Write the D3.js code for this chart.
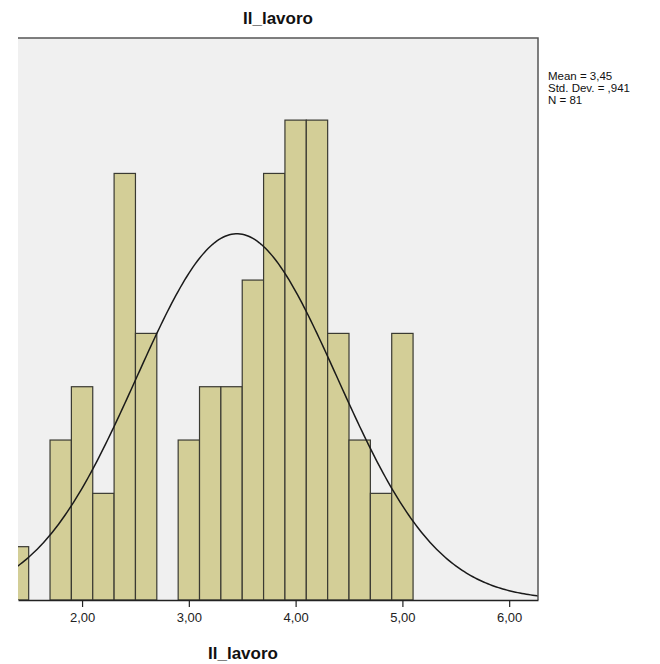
<!DOCTYPE html>
<html>
<head>
<meta charset="utf-8">
<title>Il_lavoro</title>
<script src="https://cdn.jsdelivr.net/npm/d3@7/dist/d3.min.js"></script>
<style>
  body { margin: 0; background: #fff; }
  svg { font-family: "Liberation Sans", Arial, sans-serif; }
</style>
</head>
<body>
<div id="chart"></div>
<script>
// bin lower edges (width 0.2) and counts
var binStarts = [1.3, 1.5, 1.7, 1.9, 2.1, 2.3, 2.5, 2.7, 2.9, 3.1, 3.3, 3.5, 3.7, 3.9, 4.1, 4.3, 4.5, 4.7, 4.9];
var counts    = [1,   0,   3,   4,   2,   8,   5,   0,   3,   4,   4,   6,   8,   9,   9,   5,   3,   2,   5];
var binWidth = 0.2;
var xTicks = [2, 3, 4, 5, 6];
var stats = ["Mean = 3,45", "Std. Dev. = ,941", "N = 81"];
var mean = 3.45, sd = 0.941, n = 81;

var width = 660, height = 664;
var m = { left: 18, right: 538, top: 38, bottom: 600 };

var svg = d3.select("#chart").append("svg")
  .attr("width", width)
  .attr("height", height);

var x = d3.scaleLinear().domain([1.4, 6.27]).range([m.left, m.right]);
var y = d3.scaleLinear().domain([0, 10.54]).range([m.bottom, m.top]);

svg.append("defs").append("clipPath").attr("id", "plot")
  .append("rect").attr("x", m.left).attr("y", m.top)
  .attr("width", m.right - m.left).attr("height", m.bottom - m.top);

// plot background
svg.append("rect")
  .attr("x", m.left).attr("y", m.top)
  .attr("width", m.right - m.left).attr("height", m.bottom - m.top)
  .attr("fill", "#f0f0f0");

var plot = svg.append("g").attr("clip-path", "url(#plot)");

// bars
plot.selectAll("rect.bar")
  .data(binStarts.map(function (b, i) { return { x0: b, count: counts[i] }; })
    .filter(function (d) { return d.count > 0; }))
  .enter().append("rect")
  .attr("class", "bar")
  .attr("x", function (d) { return x(d.x0); })
  .attr("width", function (d) { return x(d.x0 + binWidth) - x(d.x0); })
  .attr("y", function (d) { return y(d.count); })
  .attr("height", function (d) { return y(0) - y(d.count); })
  .attr("fill", "#d3ce97")
  .attr("stroke", "#3a3a32")
  .attr("stroke-width", 1.2);

// normal curve
var curvePts = d3.range(1.0, 6.5, 0.02).map(function (v) {
  var z = (v - mean) / sd;
  return [v, n * binWidth * Math.exp(-0.5 * z * z) / (sd * Math.sqrt(2 * Math.PI))];
});
plot.append("path")
  .datum(curvePts)
  .attr("fill", "none")
  .attr("stroke", "#1a1a1a")
  .attr("stroke-width", 1.5)
  .attr("d", d3.line().x(function (d) { return x(d[0]); }).y(function (d) { return y(d[1]); }));

// top and right borders
svg.append("path")
  .attr("d", "M" + m.left + "," + m.top + "H" + m.right + "V" + m.bottom)
  .attr("fill", "none")
  .attr("stroke", "#555")
  .attr("stroke-width", 1.5);

// x axis
var xAxis = svg.append("g")
  .attr("transform", "translate(0," + m.bottom + ")")
  .call(d3.axisBottom(x).tickValues(xTicks).tickSize(7).tickSizeOuter(0)
    .tickFormat(function (d) { return d3.format(".2f")(d).replace(".", ","); }));
xAxis.select(".domain").attr("stroke", "#222").attr("stroke-width", 1.5);
xAxis.selectAll(".tick line").attr("stroke", "#222").attr("stroke-width", 1.2);
xAxis.selectAll(".tick text")
  .attr("font-size", 13)
  .attr("font-family", "Liberation Sans, Arial, sans-serif")
  .attr("fill", "#222")
  .attr("dy", "0.9em");

// titles
svg.append("text")
  .attr("x", (m.left + m.right) / 2).attr("y", 24)
  .attr("text-anchor", "middle")
  .attr("font-size", 17).attr("font-weight", "bold")
  .attr("fill", "#111")
  .text("Il_lavoro");

svg.append("text")
  .attr("x", 243).attr("y", 659)
  .attr("text-anchor", "middle")
  .attr("font-size", 17).attr("font-weight", "bold")
  .attr("fill", "#111")
  .text("Il_lavoro");

// stats legend
svg.append("g").selectAll("text")
  .data(stats).enter().append("text")
  .attr("x", 548)
  .attr("y", function (d, i) { return 80 + i * 12; })
  .attr("font-size", 11.5)
  .attr("fill", "#111")
  .text(function (d) { return d; });
</script>
</body>
</html>
